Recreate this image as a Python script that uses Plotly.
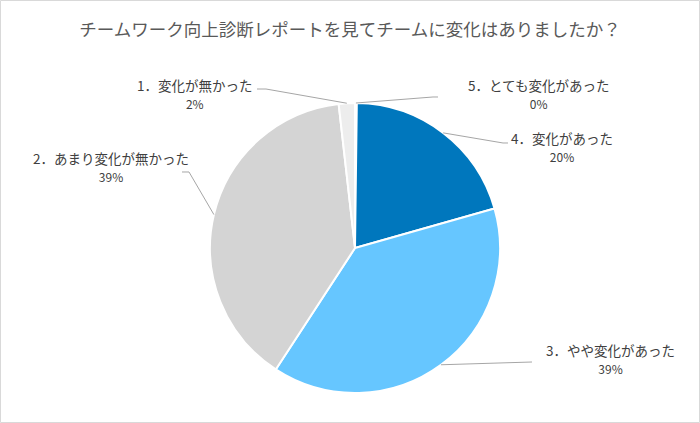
import numpy as np
import plotly.graph_objects as go

# データ
labels = ["5．とても変化があった", "4．変化があった", "3．やや変化があった",
          "2．あまり変化が無かった", "1．変化が無かった"]
values = [0.2, 20.4, 38.6, 39.0, 1.8]
colors = ["#FFFFFF", "#0077BD", "#66C6FF", "#D4D4D4", "#EDEDED"]

W, H = 700, 423
cx, cy, r = 355, 248, 145


def px(x):
    return x / W


def py(y):
    return 1 - y / H


fig = go.Figure(go.Pie(
    labels=labels,
    values=values,
    sort=False,
    direction="clockwise",
    rotation=0,
    marker=dict(colors=colors, line=dict(color="white", width=2)),
    textinfo="none",
    hoverinfo="label+percent",
    showlegend=False,
    domain=dict(x=[px(cx - r), px(cx + r)], y=[py(cy + r), py(cy - r)])
))

# スライス中央の外周点
total = sum(values)
cum = np.cumsum([0] + values)
mid = [(cum[i] + values[i] / 2) / total * 2 * np.pi for i in range(len(values))]
edge = [(cx + r * np.sin(a), cy - r * np.cos(a)) for a in mid]
pct = ["%d%%" % round(v / total * 100) for v in values]

# ラベル位置とリーダー線の折れ点 (ピクセル)
label_pos = [(538, 93), (562, 146), (610, 358), (111, 166), (195, 93)]
bends = [
    [(433, 97), (438, 97)],
    [(503, 143), (508, 143)],
    [(532, 362)],
    [(189, 172), (182, 172)],
    [(266, 89), (257, 89)],
]

shapes = []
for i in range(len(values)):
    pts = [edge[i]] + bends[i]
    path = "M " + " L ".join("%f,%f" % (px(x), py(y)) for x, y in pts)
    shapes.append(dict(type="path", xref="paper", yref="paper", path=path,
                       line=dict(color="#A6A6A6", width=1)))

shapes.append(dict(type="rect", xref="paper", yref="paper",
                   x0=px(0.5), x1=px(W - 0.5), y0=py(H - 0.5), y1=py(0.5),
                   line=dict(color="#D9D9D9", width=1)))

annotations = []
for i in range(len(values)):
    x, y = label_pos[i]
    annotations.append(dict(
        x=px(x), y=py(y), xref="paper", yref="paper",
        text=labels[i] + "<br><span style='font-size:12px'>" + pct[i] + "</span>",
        showarrow=False, align="center", xanchor="center", yanchor="middle",
        font=dict(size=13.5, color="#404040")
    ))

fig.update_layout(
    width=W, height=H,
    margin=dict(l=0, r=0, t=0, b=0),
    paper_bgcolor="white",
    font=dict(family="Noto Sans CJK JP"),
    title=dict(text="チームワーク向上診断レポートを見てチームに変化はありましたか？",
               x=0.5, xanchor="center", y=py(30), yanchor="middle",
               font=dict(size=17.5, color="#595959")),
    shapes=shapes,
    annotations=annotations
)

# ページ余白をなくす
fig.write_html("out.html", config={"displayModeBar": False},
               post_script="document.body.style.margin='0';")
